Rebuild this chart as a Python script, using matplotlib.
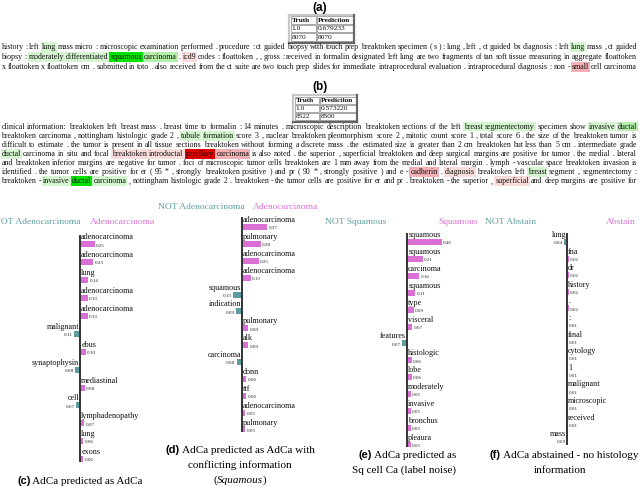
import numpy as np
import matplotlib
matplotlib.use('Agg')
import matplotlib.pyplot as plt

W, H = 640, 486
PINK = '#da70d6'
TEAL = '#5f9ea0'
SERIF = 'Liberation Serif'
SANS = 'Liberation Sans'

# word highlight colours (tag after '@' in the text lines)
HL = {'g1': '#d4f5cf', 'g2': '#b4eeaa', 'g3': '#00e400',
      'r1': '#fbdcdc', 'r2': '#f4b0b4', 'r3': '#e00000'}

# ---- data -------------------------------------------------------------
table_a = [['Truth', 'Prediction'], ['1.0', '0.679233'], ['8070', '8070']]
table_b = [['Truth', 'Prediction'], ['1.0', '0.573220'], ['8522', '8500']]

text_a = [
    "history : left lung@g1 mass micro : microscopic examination performed . procedure : ct guided biopsy with touch prep breaktoken specimen ( s ) : lung , left , ct guided bx diagnosis : left lung@g1 mass , ct guided",
    "biopsy : moderately@g1 differentiated@g1 squamous@g3 carcinoma@g2 . icd9@r1 codes : floattoken , , gross : received in formalin designated left lung are two fragments of tan soft tissue measuring in aggregate floattoken",
    "x floattoken x floattoken cm . submitted in toto . also received from the ct suite are two touch prep slides for immediate intraprocedural evaluation . intraprocedural diagnosis : non - small@r2 cell carcinoma",
]
text_b = [
    "clinical information: breaktoken left breast mass . breast time to formalin : 14 minutes . microscopic description breaktoken sections of the left breast@g1 segmentectomy@g1 specimen show invasive@g1 ductal@g2",
    "breaktoken carcinoma , nottingham histologic grade 2 , tubule@g1 formation@g1 score 3 , nuclear breaktoken pleomorphism score 2 , mitotic count score 1 , total score 6 . the size of the breaktoken tumor is",
    "difficult to estimate . the tumor is present in all tissue sections breaktoken without forming a discrete mass . the estimated size is greater than 2 cm breaktoken but less than 5 cm . intermediate grade",
    "ductal@g1 carcinoma in situ and focal breaktoken@r1 introductal@r1 papillary@r3 carcinoma@r2 is also noted . the superior , superficial breaktoken and deep surgical margins are positive for tumor . the medial . lateral",
    "and breaktoken inferior margins are negative for tumor . foci of microscopic tumor cells breaktoken are 1 mm away from the medial and lateral margin . lymph - vascular space breaktoken invasion is",
    "identified . the tumor cells are positive for er ( 95 * , strongly breaktoken positive ) and pr ( 90 * , strongly positive ) and e - cadherin@r2 . diagnosis@r1 breaktoken left breast@g1 segment , segmentectomy :",
    "breaktoken - invasive@g1 ductal@g3 carcinoma@g1 , nottingham histologic grade 2 . breaktoken - the tumor cells are positive for er and pr . breaktoken - the superior , superficial@r1 and deep margins are positive for",
]

c_words = ['adenocarcinoma', 'adenocarcinoma', 'lung', 'adenocarcinoma', 'adenocarcinoma', 'malignant',
           'ebus', 'synaptophysin', 'mediastinal', 'cell', 'lymphadenopathy', 'lung', 'exons']
c_vals = [0.25, 0.23, 0.14, 0.13, 0.13, -0.11, 0.10, -0.08, 0.08, -0.07, 0.07, 0.06, 0.06]

d_words = ['adenocarcinoma', 'pulmonary', 'adenocarcinoma', 'adenocarcinoma', 'squamous', 'indication',
           'pulmonary', 'alk', 'carcinoma', 'donn', 'ttf', 'adenocarcinoma', 'pulmonary']
d_vals = [0.37, 0.28, 0.25, 0.13, -0.13, -0.09, 0.09, 0.09, -0.08, 0.06, 0.06, 0.05, 0.05]

e_words = ['squamous', 'squamous', 'carcinoma', 'squamous', 'type', 'visceral', 'features',
           'histologic', 'lobe', 'moderately', 'invasive', 'bronchus', 'pleaura']
e_vals = [0.46, 0.21, 0.16, 0.11, 0.09, 0.07, -0.07, 0.06, 0.06, 0.05, 0.05, 0.05, 0.05]

f_words = ['lung', 'fna', 'dr', 'history', '.', ':', 'final', 'cytology', '1', 'malignant',
           'microscopic', 'received', 'mass']
f_vals = [-0.04, 0.02, 0.02, 0.02, 0.02, 0.01, 0.01, 0.01, 0.01, 0.01, 0.01, 0.01, -0.00]

class_names = [('NOT Adenocarcinoma', 'Adenocarcinoma'), ('NOT Adenocarcinoma', 'Adenocarcinoma'),
               ('NOT Squamous', 'Squamous'), ('NOT Abstain', 'Abstain')]

# ---- figure -----------------------------------------------------------
fig = plt.figure(figsize=(W / 100, H / 100), dpi=100)
ov = fig.add_axes([0, 0, 1, 1])
ov.set_xlim(0, W)
ov.set_ylim(H, 0)
ov.axis('off')
renderer = fig.canvas.get_renderer()


def text_width(s, **kw):
    t = ov.text(0, 0, s, **kw)
    w = t.get_window_extent(renderer).width
    t.remove()
    return w


def draw_runs(runs, x, y, fs, ha='center'):
    """runs: list of (text, family, weight, style)"""
    widths = [text_width(s, family=f, weight=wt, style=st, fontsize=fs) for s, f, wt, st in runs]
    total = sum(widths)
    x0 = x - total / 2 if ha == 'center' else x
    for (s, f, wt, st), w in zip(runs, widths):
        ov.text(x0, y, s, family=f, weight=wt, style=st, fontsize=fs, ha='left', va='center')
        x0 += w


def parse(line):
    toks = []
    for tok in line.split(' '):
        if '@' in tok and len(tok) > 1:
            w, tag = tok.rsplit('@', 1)
            toks.append((w, HL[tag]))
        else:
            toks.append((tok, None))
    return toks


def draw_para(lines, y0, pitch, fs, left=1.5, right=637):
    space = text_width('x x', family=SERIF, fontsize=fs) - text_width('xx', family=SERIF, fontsize=fs)
    for i, line in enumerate(lines):
        toks = parse(line)
        widths = [text_width(w, family=SERIF, fontsize=fs) for w, _ in toks]
        gap = (right - left - sum(widths)) / (len(toks) - 1)
        gap = max(gap, 0.75 * space)
        x = left
        y = y0 + i * pitch
        for (w, col), tw in zip(toks, widths):
            kw = {}
            if col is not None:
                kw['bbox'] = dict(boxstyle='square,pad=0.12', fc=col, ec='none')
            ov.text(x, y, w, family=SERIF, fontsize=fs, ha='left', va='center', color='#111', **kw)
            x += tw + gap


def draw_table(rows, x0, y0, split, w, h, fs):
    rh = (h - 3) / len(rows)
    ov.plot([x0, x0 + w], [y0, y0], color='#c8c8c8', lw=1.6)
    ov.plot([x0, x0], [y0, y0 + h], color='#c8c8c8', lw=1.6)
    ov.plot([x0, x0 + w], [y0 + h, y0 + h], color='#666666', lw=1.6)
    ov.plot([x0 + w, x0 + w], [y0, y0 + h], color='#666666', lw=1.6)
    cols = [x0 + 1.5, split + 0.5]
    widths = [split - x0 - 2, x0 + w - split - 2]
    for r, row in enumerate(rows):
        yy = y0 + 1.5 + r * rh
        for c, val in enumerate(row):
            ov.add_patch(plt.Rectangle((cols[c], yy), widths[c], rh - 0.8,
                                       fill=False, ec='#9a9a9a', lw=0.6))
            ov.text(cols[c] + 1.0, yy + rh / 2, val, family=SERIF, fontsize=fs,
                    weight='bold' if r == 0 else 'normal', ha='left', va='center', color='#111')


# titles and tables
ov.text(320, 8, '(a)', family=SANS, weight='bold', fontsize=8.5, ha='center', va='center')
draw_table(table_a, 289, 15, 316, 65, 28, 5.3)
ov.text(320, 87, '(b)', family=SANS, weight='bold', fontsize=8.5, ha='center', va='center')
draw_table(table_b, 293, 95, 319, 64, 27, 5.3)

# choose a font size so that the text rows fill the width
ref_fs = 10
nat = []
for line in text_a + text_b[:-1]:
    toks = parse(line)
    nat.append(text_width(' '.join(w for w, _ in toks), family=SERIF, fontsize=ref_fs))
fs_text = ref_fs * 636 / np.percentile(nat, 80)
draw_para(text_a, 47, 10.2, fs_text)
draw_para(text_b, 126.5, 9.15, fs_text)

# ---- explanation bar panels ------------------------------------------
geoms = [dict(axis=80, scale=58, top=235, bottom=462, row0=240.8, pitch=17.9),
         dict(axis=242, scale=68, top=217, bottom=432, row0=223.5, pitch=16.9),
         dict(axis=407, scale=76, top=233, bottom=447, row0=238.5, pitch=16.9),
         dict(axis=567, scale=75, top=233, bottom=445, row0=238.5, pitch=16.6)]

for words, vals, g in zip([c_words, d_words, e_words, f_words],
                          [c_vals, d_vals, e_vals, f_vals], geoms):
    vals = np.array(vals, dtype=float)
    neg = np.signbit(vals)
    s, p = g['scale'], g['pitch']
    ax = fig.add_axes([(g['axis'] - 90) / W, 1 - g['bottom'] / H, 180 / W,
                       (g['bottom'] - g['top']) / H])
    ax.set_xlim(-90 / s, 90 / s)
    ax.set_ylim((g['bottom'] - g['row0']) / p, (g['top'] - g['row0']) / p)
    ax.axis('off')
    off = 3.5 / p
    y = np.arange(len(words))
    ax.barh(y + off, vals, height=6 / p, color=np.where(neg, TEAL, PINK))
    ax.axvline(0, color='#333333', lw=1.4)
    for i, (w, v) in enumerate(zip(words, vals)):
        if neg[i]:
            ax.text(-0.8 / s, i - off, w, family=SERIF, fontsize=5.9, ha='right', va='center', color='#111')
            ax.text(v - 1.2 / s, i + off + 1.2 / p, f'{abs(v):.2f}', family=SERIF, fontsize=3.6,
                    ha='right', va='center', color='#222')
        else:
            ax.text(1.2 / s, i - off, w, family=SERIF, fontsize=5.9, ha='left', va='center', color='#111')
            ax.text(v + 1.2 / s, i + off + 1.2 / p, f'{abs(v):.2f}', family=SERIF, fontsize=3.6,
                    ha='left', va='center', color='#222')

# class headers
hdr_fs = 6.8
ov.text(81, 222, class_names[0][0], family=SERIF, fontsize=hdr_fs, color=TEAL, ha='right', va='center')
ov.text(90, 222, class_names[0][1], family=SERIF, fontsize=hdr_fs, color=PINK, ha='left', va='center')
ov.text(244, 207, class_names[1][0], family=SERIF, fontsize=hdr_fs, color=TEAL, ha='right', va='center')
ov.text(253, 207, class_names[1][1], family=SERIF, fontsize=hdr_fs, color=PINK, ha='left', va='center')
ov.text(325, 222, class_names[2][0], family=SERIF, fontsize=hdr_fs, color=TEAL, ha='left', va='center')
ov.text(478, 222, class_names[2][1], family=SERIF, fontsize=hdr_fs, color=PINK, ha='right', va='center')
ov.text(485, 222, class_names[3][0], family=SERIF, fontsize=hdr_fs, color=TEAL, ha='left', va='center')
ov.text(636, 222, class_names[3][1], family=SERIF, fontsize=hdr_fs, color=PINK, ha='right', va='center')

# captions
cap_fs = 8
B = (SANS, 'bold', 'normal')
R = (SERIF, 'normal', 'normal')
I = (SERIF, 'normal', 'italic')
draw_runs([('(c)',) + B, (' AdCa predicted as AdCa',) + R], 80, 481, cap_fs)
draw_runs([('(d)',) + B, (' AdCa predicted as AdCa with',) + R], 240, 450, cap_fs)
draw_runs([('conflicting information',) + R], 240, 465, cap_fs)
draw_runs([('(',) + R, ('Squamous',) + I, (')',) + R], 240, 480, cap_fs)
draw_runs([('(e)',) + B, (' AdCa predicted as',) + R], 407, 455, cap_fs)
draw_runs([('Sq cell Ca (label noise)',) + R], 404, 470, cap_fs)
draw_runs([('(f)',) + B, (' AdCa abstained - no histology',) + R], 564, 455, cap_fs)
draw_runs([('information',) + R], 560, 470, cap_fs)

fig.savefig('out.png', dpi=100)
